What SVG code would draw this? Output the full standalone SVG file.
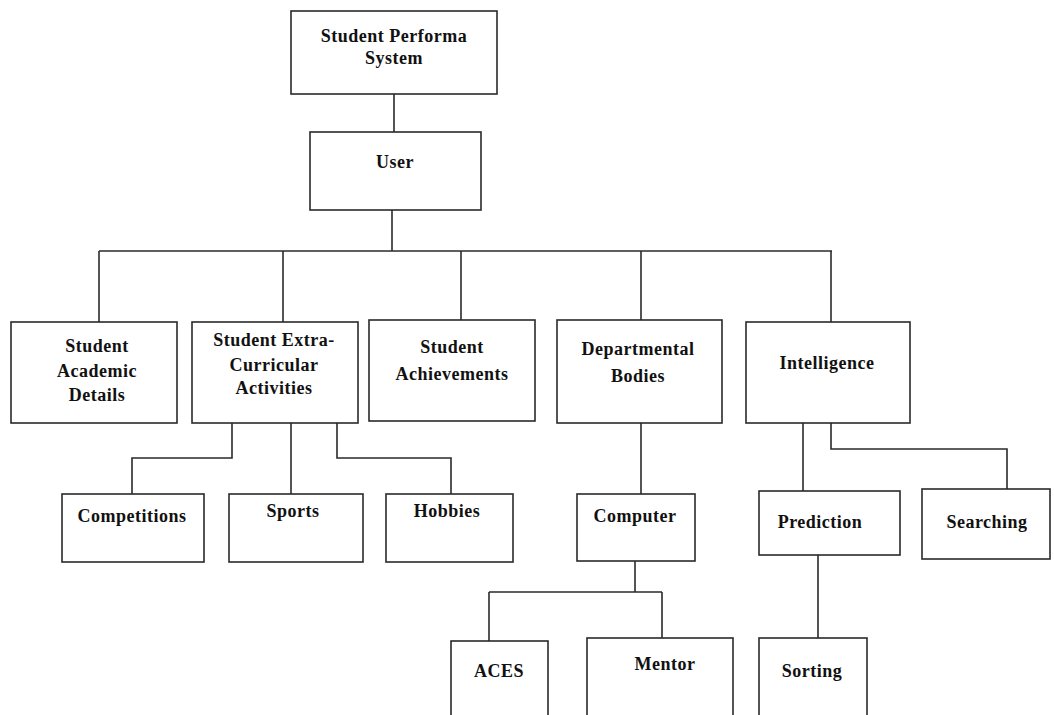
<svg xmlns="http://www.w3.org/2000/svg" width="1054" height="715" viewBox="0 0 1054 715">
<style>
.box{fill:#fff;stroke:#2a2a2a;stroke-width:1.6}
.ln{fill:none;stroke:#2a2a2a;stroke-width:1.6}
text{font-family:"Liberation Serif","Times New Roman",serif;font-weight:bold;font-size:18px;letter-spacing:0.5px;fill:#111;text-anchor:middle}
</style>
<rect width="1054" height="715" fill="#fff"/>
<g id="connectors">
<path class="ln" d="M394 94V132"/>
<path class="ln" d="M392 210V251"/>
<path class="ln" d="M99 251H832"/>
<path class="ln" d="M99 251V322"/>
<path class="ln" d="M283 251V322"/>
<path class="ln" d="M461 251V320"/>
<path class="ln" d="M641 251V320"/>
<path class="ln" d="M831 251V322"/>
<path class="ln" d="M232 423V458H132V494"/>
<path class="ln" d="M291 423V494"/>
<path class="ln" d="M337 423V458H451V494"/>
<path class="ln" d="M641 423V494"/>
<path class="ln" d="M803 423V491"/>
<path class="ln" d="M831 423V449H1007V489"/>
<path class="ln" d="M635 561V592"/>
<path class="ln" d="M489 592H662"/>
<path class="ln" d="M489 592V641"/>
<path class="ln" d="M662 592V638"/>
<path class="ln" d="M818 555V638"/>
</g>
<g id="n-root"><rect class="box" x="291" y="11" width="206" height="83"/><text x="394" y="42">Student Performa</text><text x="394" y="64">System</text></g>
<g id="n-user"><rect class="box" x="310" y="132" width="171" height="78"/><text x="395" y="168">User</text></g>
<g id="n-academic"><rect class="box" x="11" y="322" width="166" height="101"/><text x="97" y="352">Student</text><text x="97" y="377">Academic</text><text x="97" y="401">Details</text></g>
<g id="n-extra"><rect class="box" x="192" y="322" width="166" height="101"/><text x="274" y="346">Student Extra-</text><text x="274" y="371">Curricular</text><text x="274" y="394">Activities</text></g>
<g id="n-achieve"><rect class="box" x="369" y="320" width="166" height="101"/><text x="452" y="353">Student</text><text x="452" y="380">Achievements</text></g>
<g id="n-dept"><rect class="box" x="557" y="320" width="165" height="103"/><text x="638" y="355">Departmental</text><text x="638" y="382">Bodies</text></g>
<g id="n-intel"><rect class="box" x="746" y="322" width="164" height="101"/><text x="827" y="369">Intelligence</text></g>
<g id="n-comp"><rect class="box" x="62" y="494" width="142" height="68"/><text x="132" y="522">Competitions</text></g>
<g id="n-sports"><rect class="box" x="229" y="494" width="134" height="68"/><text x="293" y="517">Sports</text></g>
<g id="n-hobbies"><rect class="box" x="386" y="494" width="127" height="68"/><text x="447" y="517">Hobbies</text></g>
<g id="n-computer"><rect class="box" x="577" y="494" width="118" height="67"/><text x="635" y="522">Computer</text></g>
<g id="n-prediction"><rect class="box" x="759" y="491" width="141" height="64"/><text x="820" y="528">Prediction</text></g>
<g id="n-searching"><rect class="box" x="922" y="489" width="128" height="70"/><text x="987" y="528">Searching</text></g>
<g id="n-aces"><rect class="box" x="451" y="641" width="97" height="90"/><text x="499" y="677">ACES</text></g>
<g id="n-mentor"><rect class="box" x="587" y="638" width="146" height="93"/><text x="665" y="670">Mentor</text></g>
<g id="n-sorting"><rect class="box" x="759" y="638" width="108" height="93"/><text x="812" y="677">Sorting</text></g>
</svg>
